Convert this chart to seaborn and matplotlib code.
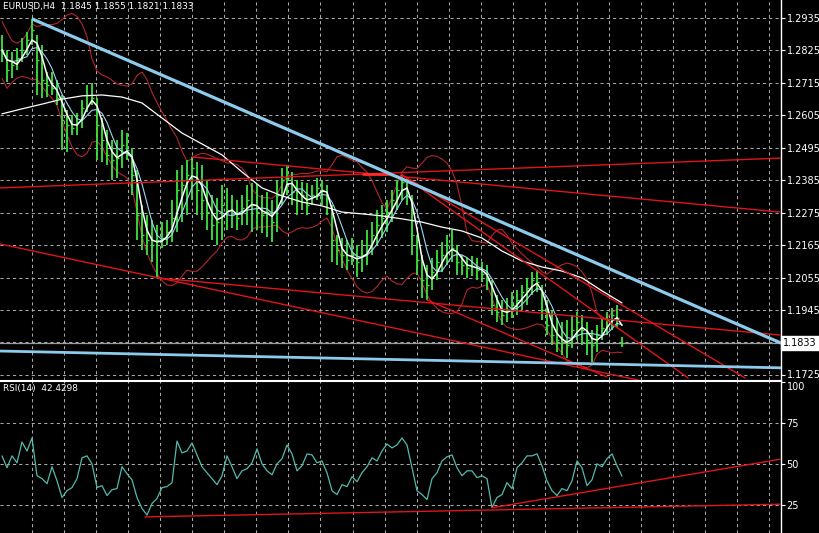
# EURUSD H4 con RSI(14) - estilo MetaTrader
import numpy as np
import pandas as pd
import matplotlib
matplotlib.use("Agg")
import matplotlib.pyplot as plt
import matplotlib.transforms as mtransforms
import seaborn as sns

# 1. Datos (una entrada por barra)
bar_high = [1.2877, 1.2827, 1.2820, 1.2833, 1.2867, 1.2888, 1.2932, 1.2877, 1.2843, 1.2752,
            1.2752, 1.2725, 1.2674, 1.2623, 1.2606, 1.2613, 1.2657, 1.2708, 1.2715, 1.2664,
            1.2596, 1.2555, 1.2521, 1.2521, 1.2555, 1.2545, 1.2494, 1.2420, 1.2301, 1.2267,
            1.2250, 1.2233, 1.2243, 1.2250, 1.2318, 1.2420, 1.2437, 1.2454, 1.2464, 1.2447,
            1.2437, 1.2386, 1.2335, 1.2325, 1.2369, 1.2359, 1.2335, 1.2318, 1.2335, 1.2369,
            1.2376, 1.2369, 1.2335, 1.2345, 1.2318, 1.2386, 1.2426, 1.2437, 1.2413, 1.2386,
            1.2379, 1.2376, 1.2369, 1.2393, 1.2386, 1.2369, 1.2301, 1.2199, 1.2189, 1.2182,
            1.2189, 1.2165, 1.2182, 1.2216, 1.2243, 1.2284, 1.2301, 1.2318, 1.2352, 1.2386,
            1.2403, 1.2393, 1.2335, 1.2199, 1.2132, 1.2098, 1.2121, 1.2149, 1.2176, 1.2199,
            1.2216, 1.2165, 1.2132, 1.2121, 1.2128, 1.2121, 1.2108, 1.2098, 1.2047, 1.1996,
            1.1979, 1.1986, 1.2006, 1.2013, 1.2030, 1.2054, 1.2074, 1.2081, 1.2030, 1.1979,
            1.1945, 1.1918, 1.1904, 1.1911, 1.1928, 1.1938, 1.1928, 1.1904, 1.1877, 1.1894,
            1.1918, 1.1938, 1.1952, 1.1962, 1.1855]
bar_low = [1.2786, 1.2718, 1.2732, 1.2759, 1.2786, 1.2810, 1.2843, 1.2674, 1.2664, 1.2667,
           1.2674, 1.2640, 1.2488, 1.2481, 1.2538, 1.2538, 1.2562, 1.2616, 1.2640, 1.2454,
           1.2447, 1.2437, 1.2386, 1.2393, 1.2426, 1.2454, 1.2335, 1.2182, 1.2149, 1.2132,
           1.2108, 1.2054, 1.2155, 1.2165, 1.2176, 1.2210, 1.2243, 1.2267, 1.2318, 1.2267,
           1.2250, 1.2216, 1.2182, 1.2165, 1.2182, 1.2216, 1.2223, 1.2216, 1.2233, 1.2233,
           1.2210, 1.2216, 1.2206, 1.2193, 1.2176, 1.2210, 1.2301, 1.2335, 1.2301, 1.2267,
           1.2284, 1.2267, 1.2301, 1.2318, 1.2301, 1.2267, 1.2108, 1.2098, 1.2088, 1.2081,
           1.2098, 1.2057, 1.2074, 1.2098, 1.2132, 1.2165, 1.2189, 1.2210, 1.2243, 1.2284,
           1.2318, 1.2301, 1.2132, 1.2064, 1.1986, 1.1979, 1.2013, 1.2047, 1.2074, 1.2098,
           1.2108, 1.2064, 1.2064, 1.2054, 1.2060, 1.2047, 1.2040, 1.2013, 1.1928, 1.1904,
           1.1894, 1.1904, 1.1918, 1.1928, 1.1945, 1.1962, 1.1996, 1.2006, 1.1911, 1.1860,
           1.1826, 1.1803, 1.1793, 1.1782, 1.1816, 1.1843, 1.1826, 1.1793, 1.1769, 1.1803,
           1.1843, 1.1860, 1.1877, 1.1884, 1.1821]
bar_close = [1.2827, 1.2759, 1.2776, 1.2799, 1.2827, 1.2860, 1.2894, 1.2793, 1.2725, 1.2708,
             1.2698, 1.2664, 1.2589, 1.2572, 1.2562, 1.2582, 1.2630, 1.2674, 1.2664, 1.2572,
             1.2521, 1.2471, 1.2454, 1.2460, 1.2504, 1.2488, 1.2403, 1.2267, 1.2199, 1.2182,
             1.2165, 1.2182, 1.2189, 1.2210, 1.2257, 1.2352, 1.2369, 1.2403, 1.2426, 1.2352,
             1.2318, 1.2277, 1.2233, 1.2243, 1.2301, 1.2284, 1.2267, 1.2257, 1.2291, 1.2318,
             1.2301, 1.2277, 1.2267, 1.2277, 1.2243, 1.2335, 1.2386, 1.2393, 1.2345, 1.2318,
             1.2335, 1.2301, 1.2335, 1.2359, 1.2352, 1.2325, 1.2182, 1.2149, 1.2132, 1.2115,
             1.2132, 1.2108, 1.2132, 1.2165, 1.2199, 1.2233, 1.2257, 1.2277, 1.2318, 1.2352,
             1.2379, 1.2345, 1.2199, 1.2115, 1.2047, 1.2030, 1.2074, 1.2108, 1.2132, 1.2165,
             1.2155, 1.2108, 1.2098, 1.2088, 1.2094, 1.2081, 1.2067, 1.2047, 1.1962, 1.1938,
             1.1928, 1.1945, 1.1962, 1.1979, 1.2006, 1.2020, 1.2047, 1.2040, 1.1945, 1.1894,
             1.1860, 1.1843, 1.1837, 1.1826, 1.1877, 1.1904, 1.1877, 1.1843, 1.1826, 1.1860,
             1.1884, 1.1911, 1.1928, 1.1918, 1.1833]
rsi_vals = [54.9, 47.6, 54.9, 50.6, 63.4, 57.9, 65.9, 42.7, 40.9, 37.8,
            48.2, 39.6, 29.3, 33.5, 35.4, 40.9, 53.7, 54.9, 50.0, 35.4,
            36.6, 30.5, 34.1, 34.8, 48.2, 43.9, 40.2, 29.3, 22.6, 18.5,
            25.6, 28.7, 35.4, 36.0, 38.4, 64.0, 56.7, 57.9, 62.8, 55.5,
            48.2, 44.5, 40.9, 37.2, 42.7, 54.9, 48.2, 40.9, 45.7, 47.0,
            50.6, 59.2, 50.0, 45.7, 43.3, 50.0, 53.1, 61.6, 56.1, 45.7,
            48.8, 56.1, 55.5, 50.6, 51.8, 44.5, 33.5, 31.1, 37.2, 36.0,
            42.1, 39.0, 44.5, 48.2, 53.7, 51.8, 57.9, 62.2, 59.8, 61.6,
            65.9, 61.6, 47.6, 33.5, 31.1, 28.0, 40.9, 44.5, 51.8, 54.3,
            55.5, 47.6, 42.7, 45.7, 45.7, 41.5, 42.7, 40.9, 23.2, 29.3,
            31.1, 38.4, 34.8, 47.6, 50.6, 54.9, 54.9, 56.1, 48.8, 39.6,
            33.5, 30.5, 34.8, 33.5, 39.6, 51.8, 47.6, 36.6, 40.2, 50.0,
            48.2, 53.1, 56.1, 48.8, 42.43]

# media lenta (blanca), una lectura cada 4 barras
slow_ma_bar = list(range(0, 125, 4))
slow_ma = [1.2610, 1.2627, 1.2643, 1.2660, 1.2671, 1.2674, 1.2667, 1.2647, 1.2596, 1.2545,
           1.2508, 1.2471, 1.2413, 1.2359, 1.2332, 1.2311, 1.2298, 1.2277, 1.2271, 1.2264,
           1.2254, 1.2243, 1.2226, 1.2213, 1.2189, 1.2145, 1.2111, 1.2091, 1.2077, 1.2054,
           1.2010, 1.1969]

# líneas de tendencia: (barra inicio, barra fin), (precio inicio, precio fin)
blue_top_x, blue_top_y = [6, 155.8], [1.2932, 1.1833]
blue_low_x, blue_low_y = [-0.4, 155.8], [1.1806, 1.1749]
red_a_x, red_a_y = [-0.4, 155.8], [1.2359, 1.2460]
red_b_x, red_b_y = [38, 155.8], [1.2464, 1.2277]
red_c_x, red_c_y = [-0.4, 155.8], [1.2169, 1.1604]
red_d_x, red_d_y = [31, 155.8], [1.2054, 1.1860]
red_e_x, red_e_y = [80, 137.2], [1.2403, 1.1715]
red_f_x, red_f_y = [80, 148.6], [1.2403, 1.1715]
red_g_x, red_g_y = [85, 121], [1.1979, 1.1718]
red_h_x, red_h_y = [72.2, 77], [1.2406, 1.2406]
rsi_r1_x, rsi_r1_y = [28.6, 155.8], [17.4, 25.2]
rsi_r2_x, rsi_r2_y = [98, 155.8], [23.0, 52.9]

price_ticks = [1.2935, 1.2825, 1.2715, 1.2605, 1.2495, 1.2385, 1.2275, 1.2165,
               1.2055, 1.1945, 1.1835, 1.1725]
price_labels = ["1.2935", "1.2825", "1.2715", "1.2605", "1.2495", "1.2385", "1.2275",
                "1.2165", "1.2055", "1.1945", "", "1.1725"]
rsi_ticks = [25, 50, 75, 100]
last_price = 1.1833

# 2. Indicadores
df = pd.DataFrame({"bar": np.arange(len(bar_close)), "high": bar_high,
                   "low": bar_low, "close": bar_close, "rsi": rsi_vals})
df["ma_fast"] = df["close"].rolling(3, min_periods=1).mean()
df["ma_mid"] = df["close"].rolling(5, min_periods=1).mean()
mid = df["close"].rolling(12, min_periods=1).mean()
sd = df["close"].rolling(12, min_periods=2).std().bfill()
df["bb_up"] = mid + 2 * sd
df["bb_dn"] = mid - 2 * sd

# 3. Figura
sns.set_style("dark")
plt.rcParams["font.family"] = ["DejaVu Sans"]
W, H = 820, 533
fig = plt.figure(figsize=(W / 100, H / 100), dpi=100, facecolor="black")
ax = fig.add_axes([0, (H - 380) / H, 781 / W, 380 / H], facecolor="black")
ax2 = fig.add_axes([0, 0, 781 / W, 152 / H], facecolor="black")

xlim = (-0.4, 155.8)
grid_x = np.arange(1, 25) * 6.41 - 0.4
grid_col = "#a8a8a8"
dash = (0, (3, 3))

for a in (ax, ax2):
    a.set_xlim(*xlim)
    a.set_xticks([])
    for gx in grid_x:
        a.axvline(gx, color=grid_col, lw=0.75, ls=dash, zorder=0)
    for s in a.spines.values():
        s.set_visible(False)
    a.spines["right"].set_visible(True)
    a.spines["right"].set_color("white")
    a.spines["right"].set_linewidth(1)
    a.yaxis.tick_right()
    a.tick_params(axis="y", colors="white", labelsize=7, length=3, width=0.8,
                  direction="out", pad=1)

# panel de precio
ax.set_ylim(1.17078, 1.2996)
ax.spines["bottom"].set_visible(True)
ax.spines["bottom"].set_color("white")
for p in price_ticks:
    ax.axhline(p, color=grid_col, lw=0.75, ls=dash, zorder=0)
ax.set_yticks(price_ticks)
ax.set_yticklabels(price_labels)
ax.get_yticklabels()[-1].set_va("center")
ax.axhline(last_price, color="#9c9c9c", lw=0.9, zorder=1)

sns.lineplot(data=df, x="bar", y="bb_up", ax=ax, color="#b3262e", lw=0.8, legend=False, zorder=2)
sns.lineplot(data=df, x="bar", y="bb_dn", ax=ax, color="#b3262e", lw=0.8, legend=False, zorder=2)
ax.vlines(df["bar"], df["low"], df["high"], color="#3ce43c", lw=1.3, zorder=3)
ax.hlines(df["close"], df["bar"], df["bar"] + 0.35, color="#3ce43c", lw=1.0, zorder=3)
sns.lineplot(data=df, x="bar", y="ma_mid", ax=ax, color="#9fd4f2", lw=0.8, legend=False, zorder=4)
sns.lineplot(data=df, x="bar", y="ma_fast", ax=ax, color="white", lw=1.1, legend=False, zorder=4)
sns.lineplot(x=slow_ma_bar, y=slow_ma, ax=ax, color="white", lw=0.9, legend=False, zorder=4)

for tx, ty in [(red_a_x, red_a_y), (red_b_x, red_b_y), (red_c_x, red_c_y), (red_d_x, red_d_y),
               (red_e_x, red_e_y), (red_f_x, red_f_y), (red_g_x, red_g_y)]:
    ax.plot(tx, ty, color="#e0141a", lw=1.0, zorder=5)
ax.plot(red_h_x, red_h_y, color="#ff2a2a", lw=2.0, zorder=5)
ax.plot(blue_top_x, blue_top_y, color="#8ccbeb", lw=2.3, zorder=6, solid_capstyle="butt")
ax.plot(blue_low_x, blue_low_y, color="#8ccbeb", lw=2.0, zorder=6, solid_capstyle="butt")
ax.set_xlabel("")
ax.set_ylabel("")

tr = mtransforms.blended_transform_factory(ax.transAxes, ax.transData)
ax.text(1.003, last_price, "1.1833", transform=tr, color="black", fontsize=7,
        va="center", ha="left", clip_on=False,
        bbox=dict(boxstyle="square,pad=0.2", fc="white", ec="white"))
fig.text(3 / W, 1 - 2 / H, "EURUSD,H4  1.1845 1.1855 1.1821 1.1833", color="white",
         fontsize=6.4, va="top", ha="left")

# panel RSI
ax2.set_ylim(7.5, 100.9)
ax2.spines["top"].set_visible(True)
ax2.spines["top"].set_color("white")
for r in rsi_ticks[:3]:
    ax2.axhline(r, color=grid_col, lw=0.75, ls=dash, zorder=0)
ax2.set_yticks(rsi_ticks)
ax2.set_yticklabels([str(r) for r in rsi_ticks])
ax2.get_yticklabels()[-1].set_va("top")
sns.lineplot(data=df, x="bar", y="rsi", ax=ax2, color="#54b9ad", lw=0.9, legend=False, zorder=3)
ax2.plot(rsi_r1_x, rsi_r1_y, color="#e0141a", lw=1.0, zorder=4)
ax2.plot(rsi_r2_x, rsi_r2_y, color="#e0141a", lw=1.0, zorder=4)
ax2.set_xlabel("")
ax2.set_ylabel("")
ax2.text(0.004, 1 - 3 / 152, "RSI(14)  42.4298", transform=ax2.transAxes, color="white",
         fontsize=6.4, va="top", ha="left")

plt.savefig("out.png", dpi=100, facecolor="black")
